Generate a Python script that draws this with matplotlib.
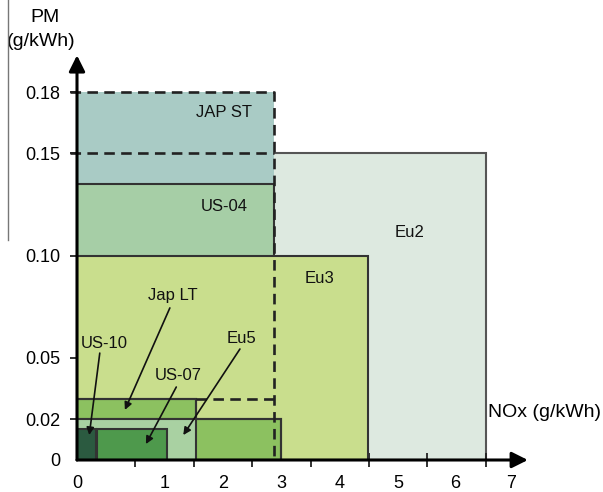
import matplotlib
matplotlib.use("Agg")
import matplotlib.pyplot as plt
from matplotlib.patches import Rectangle
from matplotlib.lines import Line2D

plt.rcParams['font.family'] = ['Liberation Sans', 'DejaVu Sans']

# NOx axis is schematic: positions in "tick units", PM in g/kWh
xtick_labels = ['0', '1', '2', '3', '4', '5', '6', '7']
xtick_pos = [0, 1.5, 2.5, 3.5, 4.5, 5.5, 6.47, 7.43]
xminor_pos = [1, 2, 3, 4, 5, 6, 7]
ytick_vals = [0, 0.02, 0.05, 0.10, 0.15, 0.18]
ytick_labels = ['0', '0.02', '0.05', '0.10', '0.15', '0.18']

# limit boxes: name -> (NOx extent, PM extent)
eu2 = (7.0, 0.15)
jap_st = (3.37, 0.18)
us04 = (3.37, 0.135)
eu3 = (4.98, 0.10)
jap_lt = (2.04, 0.03)
eu5 = (3.49, 0.02)
us07 = (0.34, 1.54, 0.015)   # x start, x end, PM
us10 = (0.33, 0.015)

edge = '#333333'

fig = plt.figure(figsize=(6.03, 4.92), dpi=100)
ax = fig.add_axes([77/603, 32/492, 7.7*58.4/603, 0.197*2044/492])
ax.set_xlim(0, 7.7)
ax.set_ylim(0, 0.197)
for s in ax.spines.values():
    s.set_visible(False)

def box(w, h, fc, x0=0, ec=edge, lw=1.5, ls='-', z=1, fill=True):
    ax.add_patch(Rectangle((x0, 0), w - x0, h, facecolor=fc if fill else 'none',
                           edgecolor=ec, lw=lw, linestyle=ls, zorder=z, fill=fill))

box(eu2[0], eu2[1], '#dde9e0', ec='#555555', z=1)
box(jap_st[0], jap_st[1], '#a9cbc5', ec='none', z=2)
box(us04[0], us04[1], '#a6cea6', z=3)
box(eu3[0], eu3[1], '#c9de8d', z=4)
box(jap_lt[0], jap_lt[1], '#8cc160', z=5)
box(eu5[0], eu5[1], '#8cc160', z=6)
box(jap_lt[0], eu5[1], '#a9d1a2', ec='none', z=7)
box(eu5[0], eu5[1], None, z=8, fill=False)
box(jap_lt[0], jap_lt[1], None, z=8, fill=False)
box(us07[1], us07[2], '#4e994c', x0=us07[0], z=9)
box(us10[0], us10[1], '#2b5a40', z=10)

# Japanese short-term dashed outline and guide lines
dash = (0, (4, 2.4))
ax.plot([-0.12, jap_st[0], jap_st[0]], [jap_st[1], jap_st[1], 0], color='#222222',
        lw=1.9, linestyle=dash, zorder=11, clip_on=False)
ax.plot([-0.12, jap_st[0]], [eu2[1], eu2[1]], color='#222222', lw=1.9,
        linestyle=dash, zorder=11, clip_on=False)
ax.plot([jap_lt[0], jap_st[0]], [jap_lt[1], jap_lt[1]], color='#222222', lw=1.9,
        linestyle=dash, zorder=11)

# axes with arrows
ax.annotate('', xy=(7.72, 0), xytext=(0, 0), xycoords='data',
            arrowprops=dict(arrowstyle='-|>', color='black', lw=2.2, mutation_scale=24,
                            shrinkA=0, shrinkB=0), annotation_clip=False, zorder=12)
ax.annotate('', xy=(0, 0.198), xytext=(0, 0), xycoords='data',
            arrowprops=dict(arrowstyle='-|>', color='black', lw=2.2, mutation_scale=24,
                            shrinkA=0, shrinkB=0), annotation_clip=False, zorder=12)

ax.set_xticks(xtick_pos)
ax.set_xticklabels(xtick_labels, fontsize=13, color='black')
ax.set_xticks(xminor_pos, minor=True)
ax.tick_params(axis='x', which='major', length=0, pad=11)
ax.tick_params(axis='x', which='minor', direction='inout', length=10, width=1.3, color='#222222')
ax.set_yticks(ytick_vals)
ax.set_yticklabels(ytick_labels, fontsize=13, color='black')
ax.tick_params(axis='y', direction='out', length=5, width=1.3, pad=7, color='#222222')
ax.yaxis.get_major_ticks()[0].tick1line.set_visible(False)

# labels
ax.text(-0.55, 0.2165, 'PM', fontsize=14, ha='center', va='center', clip_on=False)
ax.text(-0.62, 0.2048, '(g/kWh)', fontsize=14, ha='center', va='center', clip_on=False)
ax.text(7.04, 0.023, 'NOx (g/kWh)', fontsize=14, ha='left', va='center', clip_on=False)

inner = dict(fontsize=12, ha='center', va='center', zorder=14, color='#111111')
ax.text(2.52, 0.170, 'JAP ST', **inner)
ax.text(2.52, 0.124, 'US-04', **inner)
ax.text(5.70, 0.1115, 'Eu2', **inner)
ax.text(4.16, 0.089, 'Eu3', **inner)

notes = [('Jap LT', (1.64, 0.0807), (1.59, 0.0744), (0.82, 0.0245)),
         ('US-10', (0.46, 0.0572), (0.39, 0.0523), (0.21, 0.0122)),
         ('US-07', (1.73, 0.0411), (1.70, 0.0357), (1.18, 0.0078)),
         ('Eu5', (2.81, 0.0592), (2.79, 0.0543), (1.82, 0.0122))]
for name, txt, start, tip in notes:
    ax.text(txt[0], txt[1], name, **inner)
    ax.annotate('', xy=tip, xytext=start,
                arrowprops=dict(arrowstyle='-|>', color='#111111', lw=1.2,
                                mutation_scale=11, shrinkA=0, shrinkB=0), zorder=14)

fig.add_artist(Line2D([8/603, 8/603], [1, 1 - 240/492], color='#777777', lw=1))

fig.savefig('out.png', dpi=100)
